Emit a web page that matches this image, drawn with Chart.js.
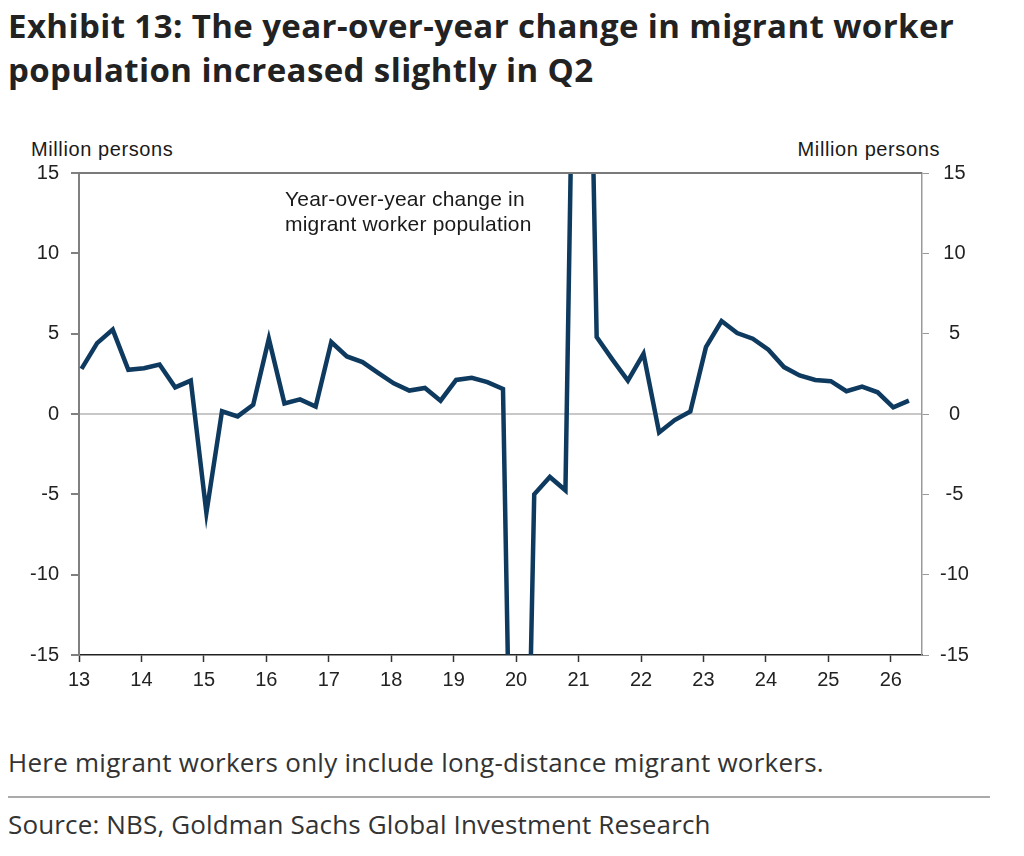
<!DOCTYPE html>
<html>
<head>
<meta charset="utf-8">
<script src="https://cdn.jsdelivr.net/npm/chart.js@4.4.1/dist/chart.umd.min.js"></script>
<style>
  body { margin: 0; background: #fff; width: 1024px; height: 856px; position: relative; overflow: hidden; }
  .t { position: absolute; white-space: nowrap; }
  #title { left: 8px; top: 4px; font: bold 33px/44px "Open Sans", Lato, sans-serif; color: #222; letter-spacing: 0.4px; }
  .unit { font: 20px/20px "Liberation Sans", Arial, sans-serif; color: #1a1a1a; top: 139px; letter-spacing: 0.6px; }
  #note { left: 285px; top: 186px; font: 21px/25px "Liberation Sans", Arial, sans-serif; color: #1a1a1a; letter-spacing: 0.2px; }
  #foot { left: 8px; top: 747px; font: 26px/30px "Open Sans", sans-serif; color: #333; letter-spacing: 0.25px; }
  #rule { position: absolute; left: 8px; top: 796px; width: 982px; height: 0; border-top: 2px solid #aaa; }
  #src { left: 8px; top: 809px; font: 26px/30px "Open Sans", sans-serif; color: #333; letter-spacing: 0.15px; }
  #cv { position: absolute; left: 0; top: 130px; }
</style>
</head>
<body>
<div id="title" class="t">Exhibit 13: The year-over-year change in migrant worker<br>population increased slightly in Q2</div>
<div class="t unit" style="left:31px">Million persons</div>
<div class="t unit" style="right:84px">Million persons</div>
<canvas id="cv" width="1024" height="580"></canvas>
<div id="note" class="t">Year-over-year change in<br>migrant worker population</div>
<div id="foot" class="t">Here migrant workers only include long-distance migrant workers.</div>
<div id="rule"></div>
<div id="src" class="t">Source: NBS, Goldman Sachs Global Investment Research</div>
<script>
// quarterly yoy change, million persons, 2013Q1 .. 2026Q2
var startYear = 13;
var yoyChange = [
  2.81, 4.41, 5.25, 2.75,
  2.85, 3.08, 1.66, 2.08,
  -6.15, 0.17, -0.15, 0.58,
  4.69, 0.66, 0.91, 0.46,
  4.48, 3.58, 3.23, 2.56,
  1.91, 1.46, 1.62, 0.83,
  2.12, 2.25, 1.98, 1.56,
  -52.5, -5.0, -3.92, -4.75,
  55.0, 4.79, 3.4, 2.08,
  3.75, -1.15, -0.38, 0.15,
  4.16, 5.79, 5.04, 4.69,
  4.0, 2.92, 2.4, 2.12,
  2.04, 1.42, 1.71, 1.35,
  0.42, 0.83
];
var xTickYears = [13, 14, 15, 16, 17, 18, 19, 20, 21, 22, 23, 24, 25, 26];
var yTicks = [-15, -10, -5, 0, 5, 10, 15];

var points = yoyChange.map(function (v, i) {
  return { x: startYear + i / 4 + 0.04, y: v };
});

var tickFont = { family: "'Liberation Sans', Arial, sans-serif", size: 20 };

function setYTicks(s) {
  s.ticks = yTicks.map(function (v) { return { value: v }; });
}

// top line of the frame
var frameTop = {
  id: "frameTop",
  afterDraw: function (chart) {
    var a = chart.chartArea, ctx = chart.ctx;
    ctx.save();
    ctx.strokeStyle = "#7a7a7a";
    ctx.lineWidth = 2;
    ctx.beginPath();
    ctx.moveTo(a.left - 1, a.top);
    ctx.lineTo(a.right, a.top);
    ctx.stroke();
    ctx.restore();
  }
};

var chart = new Chart(document.getElementById("cv"), {
  type: "line",
  data: {
    datasets: [{
      data: points,
      borderColor: "#0e3a5f",
      borderWidth: 4.5,
      pointRadius: 0,
      tension: 0,
      clip: 0,
      borderJoinStyle: "miter"
    }]
  },
  options: {
    responsive: false,
    animation: false,
    layout: { padding: { top: 43, left: 0, right: 0, bottom: 0 } },
    plugins: { legend: { display: false }, tooltip: { enabled: false } },
    scales: {
      x: {
        type: "linear",
        min: 13,
        max: 26.5,
        afterFit: function (s) { s.height = 55; },
        afterBuildTicks: function (s) {
          s.ticks = xTickYears.map(function (v) { return { value: v }; });
        },
        ticks: { font: tickFont, color: "#222", padding: 6, maxRotation: 0, autoSkip: false,
                 callback: function (v) { return String(v); } },
        grid: { drawOnChartArea: false, tickLength: 7, tickColor: "#333", tickWidth: 1.5 },
        border: { color: "#222", width: 1.5 }
      },
      y: {
        position: "left",
        min: -15,
        max: 15,
        afterFit: function (s) { s.width = 79; },
        afterBuildTicks: setYTicks,
        ticks: { font: tickFont, color: "#222", padding: 12 },
        grid: {
          color: function (c) { return c.tick && c.tick.value === 0 ? "#c8c8c8" : "rgba(0,0,0,0)"; },
          lineWidth: 2,
          tickColor: "#808080",
          tickLength: 8
        },
        border: { color: "#808080", width: 2 }
      },
      y2: {
        position: "right",
        min: -15,
        max: 15,
        afterFit: function (s) { s.width = 102; },
        afterBuildTicks: setYTicks,
        ticks: { font: tickFont, color: "#222", padding: 11, crossAlign: "center" },
        grid: { drawOnChartArea: false, tickColor: "#999", tickLength: 7 },
        border: { color: "#999", width: 1.5 }
      }
    }
  },
  plugins: [frameTop]
});
</script>
</body>
</html>
